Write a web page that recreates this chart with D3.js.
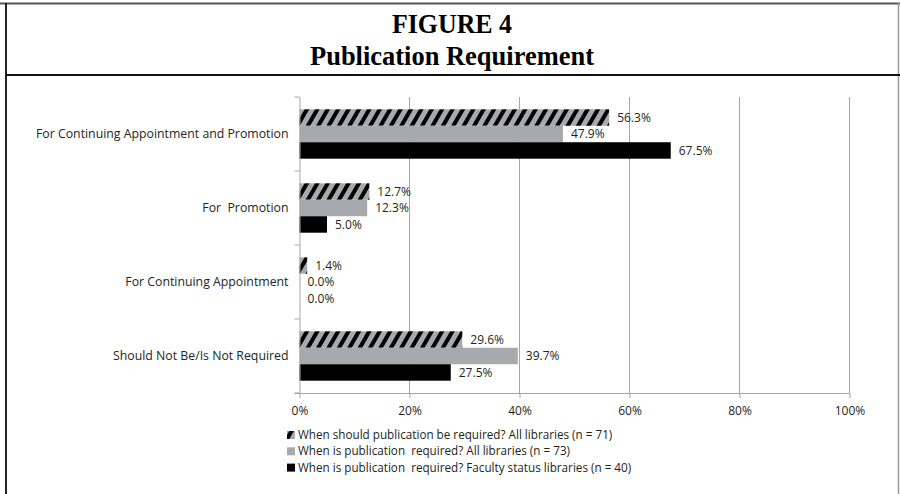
<!DOCTYPE html>
<html>
<head>
<meta charset="utf-8">
<script src="https://cdn.jsdelivr.net/npm/d3@7"></script>
<style>
  body { margin: 0; background: #fff; }
  svg text { white-space: pre; }
</style>
</head>
<body>
<svg id="chart" width="900" height="494"></svg>
<script>
// dati
var categories = ["For Continuing Appointment and Promotion", "For  Promotion", "For Continuing Appointment", "Should Not Be/Is Not Required"];
var shouldAll = [56.3, 12.7, 1.4, 29.6];
var isAll = [47.9, 12.3, 0.0, 39.7];
var isFaculty = [67.5, 5.0, 0.0, 27.5];
var seriesNames = [
  "When should publication be required? All libraries (n = 71)",
  "When is publication  required? All libraries (n = 73)",
  "When is publication  required? Faculty status libraries (n = 40)"
];
var xTicks = [0, 20, 40, 60, 80, 100];
var titleLines = ["FIGURE 4", "Publication Requirement"];
var titleWidths = [120, 284];

var width = 900, height = 494;
var plot = {left: 299.5, right: 849.5, top: 97, bottom: 393};
var gray = "#a7a9ac";
var axisColor = "#a6a6a6";
var textColor = "#231f20";
var font = "'Open Sans', sans-serif";

var svg = d3.select("#chart");

// pattern tratteggiato
var defs = svg.append("defs");
var pat = defs.append("pattern")
  .attr("id", "hatch")
  .attr("patternUnits", "userSpaceOnUse")
  .attr("width", 9).attr("height", 9)
  .attr("patternTransform", "rotate(30)");
pat.append("rect").attr("width", 9).attr("height", 9).attr("fill", gray);
pat.append("rect").attr("width", 4).attr("height", 9).attr("fill", "#000");

var fills = ["url(#hatch)", gray, "#000"];

// cornice e titolo
svg.append("line").attr("x1", 0).attr("x2", width).attr("y1", 3.5).attr("y2", 3.5)
  .attr("stroke", "#555").attr("stroke-width", 2);
svg.append("line").attr("x1", 6).attr("x2", 6).attr("y1", 3).attr("y2", height)
  .attr("stroke", "#222").attr("stroke-width", 2);
svg.append("line").attr("x1", 898.5).attr("x2", 898.5).attr("y1", 3).attr("y2", height)
  .attr("stroke", "#999").attr("stroke-width", 1.5);
svg.append("line").attr("x1", 6).attr("x2", width).attr("y1", 75).attr("y2", 75)
  .attr("stroke", "#111").attr("stroke-width", 2);

svg.selectAll(".title").data(titleLines).enter().append("text")
  .attr("class", "title")
  .attr("x", 452)
  .attr("y", function(d, i) { return 33 + i * 32; })
  .attr("text-anchor", "middle")
  .attr("textLength", function(d, i) { return titleWidths[i]; })
  .attr("lengthAdjust", "spacingAndGlyphs")
  .style("font-family", "'Liberation Serif', 'Times New Roman', serif")
  .style("font-weight", "bold")
  .style("font-size", "27.5px")
  .text(function(d) { return d; });

// scale
var x = d3.scaleLinear().domain([0, 100]).range([plot.left, plot.right]);
var y = d3.scaleBand().domain(categories).range([plot.top, plot.bottom]);
var y1 = d3.scaleBand().domain([0, 1, 2]).range([12.3, y.bandwidth() - 12.3]);

// griglia
svg.append("g").selectAll("line").data(xTicks.slice(1)).enter().append("line")
  .attr("x1", function(d) { return x(d); })
  .attr("x2", function(d) { return x(d); })
  .attr("y1", plot.top).attr("y2", plot.bottom)
  .attr("stroke", axisColor).attr("stroke-width", 1);

// barre
var series = [shouldAll, isAll, isFaculty];
var groups = svg.append("g").selectAll("g").data(categories).enter().append("g")
  .attr("transform", function(d) { return "translate(0," + y(d) + ")"; });

groups.each(function(cat, ci) {
  var g = d3.select(this);
  series.forEach(function(s, si) {
    g.append("rect")
      .attr("x", x(0))
      .attr("y", y1(si))
      .attr("width", x(s[ci]) - x(0))
      .attr("height", y1.bandwidth())
      .attr("fill", fills[si]);
    g.append("text")
      .attr("x", x(s[ci]) + 8)
      .attr("y", y1(si) + y1.bandwidth() / 2)
      .attr("dy", "0.35em")
      .style("font-family", font)
      .style("font-size", "12px")
      .style("fill", textColor)
      .text(s[ci].toFixed(1) + "%");
  });
});

// assi
var xAxis = svg.append("g")
  .attr("transform", "translate(0," + plot.bottom + ")")
  .call(d3.axisBottom(x).tickValues(xTicks).tickSize(5).tickPadding(8)
    .tickFormat(function(d) { return d + "%"; }));
xAxis.select(".domain").attr("stroke", axisColor).attr("d", "M" + (plot.left - 5) + ",0.5H" + plot.right);
xAxis.selectAll(".tick line").attr("stroke", axisColor);
xAxis.selectAll("text").style("font-family", font).style("font-size", "12px").style("fill", textColor);

var yAxis = svg.append("g").attr("transform", "translate(" + plot.left + ",0)")
  .call(d3.axisLeft(y).tickSize(0).tickPadding(11));
yAxis.select(".domain").attr("stroke", axisColor).attr("d", "M0.5," + plot.top + "V" + plot.bottom);
yAxis.selectAll("text").style("font-family", font).style("font-size", "12.3px").style("fill", textColor);
// tacche ai bordi delle categorie
svg.append("g").selectAll("line").data(categories.concat([null])).enter().append("line")
  .attr("x1", plot.left - 5).attr("x2", plot.left)
  .attr("y1", function(d) { return d === null ? plot.bottom : y(d); })
  .attr("y2", function(d) { return d === null ? plot.bottom : y(d); })
  .attr("stroke", axisColor);

// legenda
var legend = svg.append("g").selectAll("g").data(seriesNames).enter().append("g")
  .attr("transform", function(d, i) { return "translate(287," + (435 + i * 16.3) + ")"; });
legend.append("rect").attr("x", 0).attr("y", -4).attr("width", 8).attr("height", 8)
  .attr("fill", function(d, i) { return fills[i]; });
legend.append("text").attr("x", 11).attr("dy", "0.35em")
  .style("font-family", font).style("font-size", "11.7px").style("fill", textColor)
  .text(function(d) { return d; });
</script>
</body>
</html>
